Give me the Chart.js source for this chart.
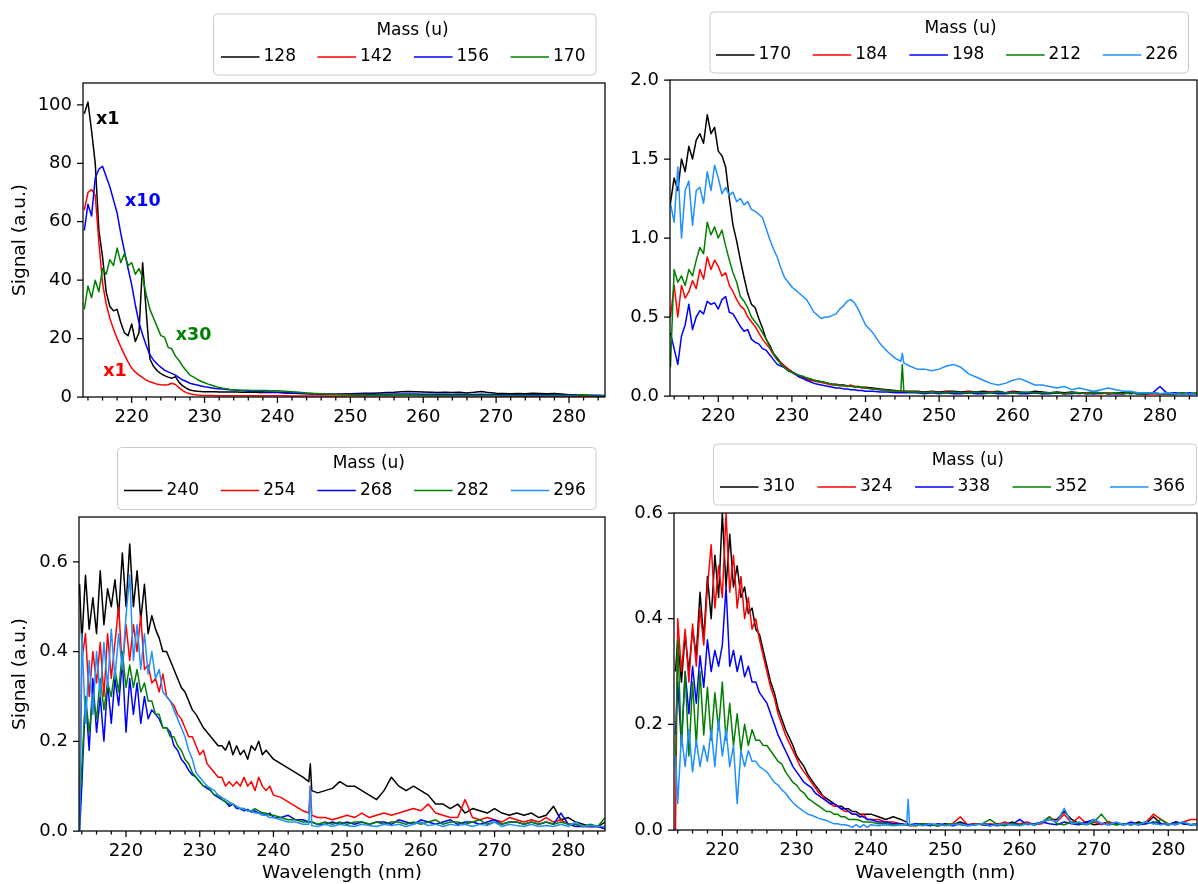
<!DOCTYPE html>
<html>
<head>
<meta charset="utf-8">
<title>Mass-resolved spectra</title>
<script src="https://cdn.jsdelivr.net/npm/chart.js@4.4.1/dist/chart.umd.min.js"></script>
<style>
  html, body { margin: 0; padding: 0; background: #fff; }
  #wrap { position: relative; width: 1198px; height: 884px; overflow: hidden; }
  #wrap canvas { position: absolute; left: 0; top: 0; }
</style>
</head>
<body>
<div id="wrap">
  <canvas id="tl" width="1198" height="884"></canvas>
  <canvas id="tr" width="1198" height="884"></canvas>
  <canvas id="bl" width="1198" height="884"></canvas>
  <canvas id="br" width="1198" height="884"></canvas>
</div>
<script>
// wavelength grids (nm)
const topWavelength = [
  213.5,214,214.5,215,215.5,216,216.5,217,217.5,218,
  218.5,219,219.5,220,220.5,221,221.5,222,222.5,223,
  223.5,224,224.5,225,225.5,226,226.5,227,227.5,228,
  228.5,229,229.5,230,230.5,231,231.5,232,232.5,233,
  233.5,234,234.5,235,235.5,236,236.5,237,237.5,238,
  238.5,239,239.5,240,241,242,243,244,244.8,245,
  245.2,246,247,248,249,250,251,252,253,254,
  255,256,257,258,259,260,261,262,263,264,
  265,266,267,268,269,270,271,272,273,274,
  275,276,277,278,279,280,281,282,283,284,285
];
const bottomWavelength = [
  213.7,214,214.5,215,215.5,216,216.5,217,217.5,218,
  218.5,219,219.5,220,220.5,221,221.5,222,222.5,223,
  223.5,224,224.5,225,225.5,226,226.5,227,227.5,228,
  228.5,229,229.5,230,230.5,231,231.5,232,232.5,233,
  233.5,234,234.5,235,235.5,236,236.5,237,237.5,238,
  238.5,239,239.5,240,241,242,243,244,244.8,245,
  245.2,246,247,248,249,250,251,252,253,254,
  255,256,257,258,259,260,261,262,263,264,
  265,266,267,268,269,270,271,272,273,274,
  275,276,277,278,279,280,281,282,283,284,285
];

const xTickLabels = [220, 230, 240, 250, 260, 270, 280];
const lineColors = ['#000000', '#ff0000', '#0000ff', '#008000', '#1e90ff'];

// top left: masses 128-170
const tlLabels = ['128', '142', '156', '170'];
const tlMass128 = [
  97,101,91,80,57,48,36,31,29.5,30,
  25.5,22,21,25,19,22,46,29,13,10.5,
  9,8,7.3,6.8,6.4,7,5,3.8,3.0,2.4,
  2.1,1.95,1.85,1.8,1.8,1.8,1.8,1.75,1.75,1.75,
  1.7,1.7,1.7,1.65,1.65,1.6,1.6,1.6,1.55,1.55,
  1.5,1.5,1.5,1.5,1.4,1.3,1.2,1.1,1.0,1.0,
  1.0,0.9,0.9,0.9,1.0,1.1,1.2,1.3,1.3,1.4,
  1.5,1.6,1.8,1.9,1.8,1.7,1.6,1.5,1.6,1.5,
  1.6,1.4,1.6,1.9,1.5,1.3,1.2,1.1,1.2,1.1,
  1.3,1.2,1.1,1.2,1.0,0.8,0.7,0.6,0.5,0.4,0.4
];
const tlMass142 = [
  64,70,71,69,53,39,31.8,27,23.3,20,
  17.2,14.5,12,9.9,8.5,7.5,6.6,5.8,5.2,4.8,
  4.4,4.2,4.1,4.2,4.7,4.3,3.2,2.2,1.5,1.1,
  0.85,0.7,0.6,0.55,0.5,0.5,0.45,0.45,0.45,0.45,
  0.4,0.4,0.4,0.4,0.4,0.4,0.4,0.4,0.4,0.4,
  0.4,0.4,0.4,0.4,0.4,0.35,0.35,0.35,0.35,0.35,
  0.35,0.35,0.35,0.35,0.35,0.4,0.4,0.4,0.4,0.45,
  0.45,0.45,0.5,0.5,0.5,0.5,0.45,0.45,0.45,0.4,
  0.4,0.4,0.4,0.45,0.4,0.4,0.35,0.35,0.35,0.35,
  0.3,0.3,0.3,0.3,0.3,0.3,0.25,0.25,0.25,0.2,0.2
];
const tlMass156 = [
  57,66,62,75,78,79,75.5,72,67.5,63,
  56,50,44,38.5,31.5,25.5,21.3,17.6,14.4,12.6,
  11.3,10.2,9.2,8.6,8.1,7.5,6.6,5.8,5.3,4.7,
  4.4,4.1,3.8,3.5,3.3,3.1,2.9,2.8,2.7,2.6,
  2.5,2.4,2.3,2.2,2.1,2.0,1.95,1.9,1.85,1.8,
  1.75,1.7,1.65,1.6,1.5,1.4,1.3,1.2,1.1,1.1,
  1.1,1.0,0.9,0.9,0.9,0.9,0.9,0.9,0.95,0.9,
  0.95,1.0,1.0,1.0,1.0,0.95,0.9,0.9,0.9,0.85,
  0.9,0.85,0.85,0.9,0.85,0.8,0.8,0.8,0.8,0.75,
  0.8,0.75,0.75,0.7,0.7,0.7,0.65,0.6,0.6,0.6,0.55
];
const tlMass170 = [
  30,38,34,40,36,44,42,47,45,51,
  46,49,45,46,42,44,41,35,30,27,
  24,21,20.5,17,16.5,14,12.5,10.5,9,7.5,
  6.8,6.0,5.4,4.9,4.4,4.0,3.6,3.3,3.0,2.8,
  2.6,2.5,2.4,2.35,2.3,2.3,2.25,2.25,2.2,2.2,
  2.2,2.15,2.1,2.1,2.0,1.8,1.6,1.4,1.25,1.2,
  1.2,1.1,1.0,0.9,0.8,0.8,0.7,0.7,0.6,0.7,
  0.6,0.6,0.7,0.6,0.6,0.5,0.6,0.5,0.6,0.5,
  0.5,0.6,0.5,0.5,0.6,0.5,0.4,0.5,0.4,0.5,
  0.4,0.4,0.5,0.4,0.4,0.4,0.5,0.8,0.4,0.3,0.4
];
const tlYTicks = [0, 20, 40, 60, 80, 100];
const tlNoteText = ['x1', 'x10', 'x30', 'x1'];
const tlNoteX = [215.1, 219.08, 226.04, 216.11];
const tlNoteY = [94.9, 67.1, 20.9, 8.9];
const tlNoteColor = ['#000000', '#0000ff', '#008000', '#ff0000'];

// top right: masses 170-226
const trLabels = ['170', '184', '198', '212', '226'];
const trMass170 = [
  1.22,1.38,1.30,1.50,1.42,1.58,1.50,1.62,1.66,1.60,
  1.78,1.66,1.70,1.55,1.52,1.45,1.25,1.08,0.98,0.86,
  0.75,0.65,0.58,0.56,0.49,0.43,0.36,0.32,0.27,0.24,
  0.21,0.19,0.17,0.155,0.14,0.13,0.12,0.11,0.105,0.10,
  0.095,0.09,0.085,0.08,0.075,0.075,0.07,0.07,0.065,0.065,
  0.06,0.06,0.055,0.055,0.05,0.045,0.04,0.035,0.03,0.03,
  0.03,0.03,0.03,0.025,0.03,0.025,0.03,0.03,0.025,0.03,
  0.025,0.03,0.025,0.03,0.02,0.03,0.025,0.02,0.03,0.025,
  0.02,0.025,0.02,0.025,0.02,0.02,0.025,0.02,0.015,0.02,
  0.02,0.015,0.02,0.015,0.02,0.015,0.015,0.01,0.02,0.01,0.015
];
const trMass184 = [
  0.50,0.70,0.50,0.70,0.62,0.66,0.73,0.68,0.80,0.74,
  0.88,0.80,0.86,0.82,0.76,0.78,0.70,0.66,0.61,0.57,
  0.55,0.50,0.47,0.44,0.40,0.36,0.33,0.30,0.26,0.23,
  0.21,0.19,0.17,0.155,0.14,0.125,0.115,0.105,0.10,0.095,
  0.09,0.085,0.08,0.075,0.07,0.07,0.065,0.065,0.06,0.07,
  0.055,0.06,0.05,0.05,0.045,0.04,0.035,0.03,0.03,0.03,
  0.03,0.025,0.025,0.02,0.025,0.02,0.025,0.02,0.02,0.025,
  0.02,0.02,0.025,0.02,0.02,0.025,0.02,0.02,0.02,0.015,
  0.02,0.02,0.015,0.02,0.015,0.02,0.015,0.015,0.02,0.015,
  0.015,0.02,0.015,0.01,0.015,0.01,0.015,0.02,0.01,0.015,0.01
];
const trMass198 = [
  0.40,0.30,0.20,0.38,0.45,0.58,0.42,0.50,0.54,0.52,
  0.60,0.58,0.59,0.55,0.61,0.63,0.53,0.52,0.48,0.44,
  0.41,0.42,0.36,0.34,0.33,0.30,0.29,0.26,0.23,0.20,
  0.19,0.18,0.16,0.15,0.135,0.12,0.11,0.10,0.09,0.08,
  0.075,0.07,0.065,0.06,0.055,0.05,0.05,0.045,0.045,0.04,
  0.04,0.035,0.035,0.03,0.03,0.025,0.025,0.02,0.02,0.02,
  0.02,0.02,0.02,0.015,0.02,0.015,0.02,0.015,0.015,0.02,
  0.015,0.015,0.02,0.015,0.015,0.02,0.015,0.015,0.02,0.015,
  0.015,0.02,0.015,0.015,0.02,0.015,0.015,0.02,0.015,0.015,
  0.015,0.02,0.015,0.015,0.02,0.06,0.015,0.02,0.015,0.02,0.015
];
const trMass212 = [
  0.18,0.80,0.72,0.76,0.70,0.80,0.76,0.86,0.94,0.90,
  1.10,1.02,1.07,1.00,1.05,0.95,0.86,0.78,0.72,0.63,
  0.60,0.56,0.50,0.47,0.44,0.40,0.36,0.31,0.27,0.23,
  0.20,0.18,0.16,0.15,0.14,0.13,0.125,0.115,0.11,0.10,
  0.095,0.09,0.085,0.08,0.075,0.07,0.07,0.065,0.065,0.06,
  0.06,0.055,0.055,0.05,0.045,0.04,0.035,0.03,0.03,0.20,
  0.03,0.025,0.025,0.02,0.025,0.02,0.02,0.025,0.02,0.02,
  0.025,0.02,0.02,0.025,0.02,0.02,0.02,0.025,0.02,0.02,
  0.02,0.02,0.015,0.02,0.02,0.015,0.02,0.02,0.015,0.02,
  0.015,0.02,0.015,0.015,0.02,0.015,0.015,0.01,0.02,0.015,0.02
];
const trMass226 = [
  1.22,1.10,1.45,1.00,1.30,1.36,1.08,1.30,1.32,1.22,
  1.42,1.30,1.46,1.38,1.28,1.32,1.27,1.29,1.23,1.25,
  1.21,1.23,1.18,1.17,1.15,1.13,1.06,0.99,0.93,0.88,
  0.81,0.75,0.72,0.69,0.67,0.65,0.63,0.61,0.57,0.53,
  0.51,0.49,0.50,0.50,0.51,0.52,0.55,0.57,0.60,0.61,
  0.59,0.55,0.50,0.45,0.40,0.33,0.28,0.24,0.22,0.27,
  0.21,0.19,0.17,0.17,0.16,0.17,0.19,0.20,0.18,0.14,
  0.12,0.10,0.08,0.07,0.08,0.10,0.11,0.09,0.07,0.07,
  0.06,0.05,0.06,0.04,0.05,0.04,0.03,0.04,0.05,0.04,
  0.03,0.03,0.02,0.02,0.02,0.015,0.02,0.015,0.01,0.015,0.01
];
const trYTicks = [0, 0.5, 1.0, 1.5, 2.0];

// bottom left: masses 240-296
const blLabels = ['240', '254', '268', '282', '296'];
const blMass240 = [
  0.55,0.42,0.57,0.45,0.52,0.44,0.58,0.46,0.54,0.50,
  0.56,0.48,0.62,0.50,0.64,0.50,0.58,0.47,0.55,0.44,
  0.48,0.45,0.43,0.40,0.40,0.38,0.36,0.34,0.32,0.31,
  0.29,0.27,0.26,0.245,0.23,0.22,0.21,0.20,0.19,0.19,
  0.18,0.20,0.17,0.19,0.17,0.18,0.16,0.19,0.18,0.20,
  0.17,0.18,0.17,0.16,0.15,0.14,0.13,0.12,0.11,0.15,
  0.09,0.085,0.09,0.095,0.11,0.10,0.10,0.09,0.08,0.07,
  0.09,0.12,0.10,0.09,0.10,0.09,0.08,0.06,0.06,0.05,
  0.06,0.04,0.05,0.045,0.04,0.05,0.04,0.035,0.04,0.035,
  0.04,0.03,0.035,0.055,0.025,0.03,0.02,0.015,0.01,0.01,0.02
];
const blMass254 = [
  0.02,0.38,0.44,0.30,0.40,0.33,0.42,0.30,0.44,0.34,
  0.42,0.50,0.36,0.46,0.38,0.46,0.40,0.48,0.36,0.37,
  0.33,0.34,0.31,0.35,0.30,0.29,0.28,0.26,0.25,0.23,
  0.21,0.21,0.19,0.17,0.18,0.15,0.14,0.13,0.12,0.12,
  0.10,0.11,0.10,0.11,0.10,0.12,0.10,0.11,0.09,0.12,
  0.10,0.09,0.10,0.08,0.075,0.065,0.055,0.045,0.04,0.10,
  0.035,0.03,0.03,0.025,0.03,0.035,0.03,0.04,0.03,0.035,
  0.04,0.035,0.04,0.045,0.05,0.045,0.06,0.04,0.035,0.03,
  0.03,0.07,0.03,0.025,0.03,0.025,0.02,0.03,0.025,0.02,
  0.025,0.02,0.03,0.02,0.025,0.015,0.015,0.01,0.01,0.01,0.005
];
const blMass268 = [
  0.0,0.10,0.30,0.18,0.34,0.22,0.30,0.20,0.33,0.24,
  0.34,0.28,0.38,0.22,0.34,0.26,0.33,0.24,0.30,0.25,
  0.27,0.26,0.25,0.23,0.23,0.22,0.19,0.18,0.16,0.15,
  0.135,0.125,0.12,0.11,0.10,0.095,0.09,0.08,0.075,0.07,
  0.065,0.055,0.06,0.05,0.05,0.045,0.048,0.042,0.045,0.04,
  0.04,0.035,0.04,0.03,0.03,0.035,0.025,0.025,0.02,0.02,
  0.02,0.015,0.015,0.02,0.015,0.02,0.015,0.02,0.015,0.02,
  0.02,0.015,0.025,0.02,0.015,0.025,0.02,0.015,0.02,0.025,
  0.015,0.02,0.02,0.015,0.02,0.025,0.015,0.02,0.02,0.015,
  0.02,0.015,0.02,0.015,0.04,0.015,0.01,0.01,0.01,0.01,0.005
];
const blMass282 = [
  0.05,0.14,0.30,0.22,0.30,0.25,0.34,0.27,0.33,0.30,
  0.36,0.31,0.40,0.32,0.37,0.32,0.36,0.31,0.33,0.29,
  0.29,0.26,0.26,0.23,0.23,0.21,0.21,0.19,0.18,0.16,
  0.15,0.13,0.12,0.11,0.10,0.10,0.09,0.08,0.08,0.07,
  0.065,0.06,0.06,0.055,0.05,0.05,0.045,0.045,0.05,0.045,
  0.04,0.04,0.035,0.035,0.03,0.025,0.025,0.02,0.02,0.02,
  0.02,0.015,0.02,0.015,0.02,0.015,0.02,0.02,0.015,0.02,
  0.015,0.02,0.02,0.015,0.02,0.015,0.02,0.025,0.015,0.02,
  0.02,0.015,0.02,0.025,0.015,0.02,0.015,0.02,0.02,0.015,
  0.02,0.015,0.02,0.015,0.02,0.015,0.015,0.01,0.015,0.01,0.03
];
const blMass296 = [
  0.0,0.44,0.24,0.38,0.26,0.40,0.30,0.42,0.32,0.45,
  0.34,0.44,0.36,0.48,0.57,0.38,0.46,0.36,0.44,0.35,
  0.40,0.34,0.36,0.31,0.30,0.29,0.27,0.25,0.23,0.21,
  0.18,0.16,0.13,0.12,0.11,0.10,0.095,0.09,0.08,0.075,
  0.07,0.065,0.06,0.055,0.05,0.05,0.045,0.045,0.04,0.04,
  0.035,0.035,0.03,0.03,0.025,0.02,0.02,0.015,0.015,0.10,
  0.012,0.01,0.015,0.01,0.015,0.012,0.01,0.015,0.012,0.01,
  0.015,0.012,0.015,0.01,0.015,0.02,0.012,0.015,0.01,0.015,
  0.012,0.015,0.01,0.015,0.012,0.02,0.01,0.015,0.012,0.01,
  0.015,0.01,0.012,0.01,0.015,0.01,0.02,0.01,0.012,0.01,0.01
];
const blYTicks = [0, 0.2, 0.4, 0.6];

// bottom right: masses 310-366
const brLabels = ['310', '324', '338', '352', '366'];
const brMass310 = [
  0.30,0.36,0.28,0.37,0.30,0.38,0.33,0.45,0.36,0.48,
  0.40,0.52,0.44,0.60,0.46,0.56,0.46,0.50,0.44,0.46,
  0.41,0.42,0.38,0.37,0.34,0.31,0.28,0.26,0.23,0.21,
  0.19,0.175,0.16,0.14,0.13,0.12,0.105,0.095,0.085,0.076,
  0.065,0.06,0.055,0.05,0.045,0.045,0.04,0.04,0.035,0.035,
  0.03,0.03,0.03,0.03,0.025,0.02,0.025,0.02,0.015,0.01,
  0.01,0.01,0.012,0.01,0.008,0.012,0.01,0.015,0.01,0.012,
  0.01,0.008,0.012,0.01,0.015,0.01,0.012,0.01,0.015,0.02,
  0.02,0.035,0.02,0.012,0.015,0.01,0.012,0.015,0.01,0.012,
  0.01,0.015,0.012,0.025,0.012,0.01,0.015,0.012,0.01,0.012,0.01
];
const brMass324 = [
  0.0,0.40,0.30,0.38,0.28,0.39,0.31,0.42,0.35,0.46,
  0.54,0.42,0.50,0.44,0.60,0.45,0.52,0.42,0.48,0.40,
  0.44,0.38,0.40,0.36,0.33,0.30,0.27,0.25,0.22,0.20,
  0.18,0.165,0.15,0.135,0.12,0.11,0.10,0.09,0.08,0.07,
  0.065,0.055,0.05,0.045,0.045,0.04,0.035,0.035,0.03,0.03,
  0.025,0.03,0.02,0.02,0.02,0.015,0.015,0.012,0.01,0.01,
  0.008,0.008,0.01,0.012,0.008,0.01,0.012,0.025,0.01,0.012,
  0.01,0.012,0.01,0.015,0.01,0.012,0.015,0.01,0.012,0.025,
  0.015,0.03,0.012,0.025,0.012,0.015,0.01,0.015,0.012,0.01,
  0.012,0.01,0.015,0.03,0.02,0.012,0.01,0.015,0.02,0.02,0.01
];
const brMass338 = [
  0.18,0.28,0.16,0.30,0.22,0.31,0.24,0.33,0.27,0.36,
  0.30,0.34,0.31,0.35,0.46,0.31,0.34,0.30,0.33,0.29,
  0.31,0.28,0.28,0.26,0.25,0.24,0.22,0.20,0.18,0.165,
  0.15,0.135,0.12,0.11,0.10,0.09,0.085,0.08,0.07,0.065,
  0.06,0.055,0.05,0.05,0.045,0.04,0.04,0.035,0.03,0.03,
  0.025,0.025,0.02,0.02,0.015,0.015,0.012,0.012,0.01,0.01,
  0.01,0.012,0.01,0.008,0.012,0.01,0.008,0.012,0.01,0.01,
  0.012,0.01,0.008,0.012,0.01,0.02,0.01,0.012,0.015,0.012,
  0.01,0.015,0.012,0.01,0.015,0.02,0.012,0.01,0.012,0.01,
  0.015,0.01,0.012,0.015,0.012,0.01,0.015,0.012,0.01,0.01,0.012
];
const brMass352 = [
  0.12,0.36,0.16,0.30,0.14,0.28,0.16,0.30,0.18,0.27,
  0.17,0.26,0.19,0.28,0.17,0.24,0.16,0.22,0.15,0.20,
  0.16,0.19,0.17,0.17,0.16,0.16,0.15,0.14,0.13,0.125,
  0.11,0.10,0.09,0.085,0.075,0.07,0.06,0.055,0.05,0.045,
  0.04,0.035,0.035,0.03,0.03,0.025,0.025,0.02,0.02,0.02,
  0.018,0.015,0.015,0.015,0.012,0.012,0.01,0.01,0.01,0.01,
  0.01,0.008,0.012,0.01,0.008,0.01,0.012,0.01,0.008,0.01,
  0.012,0.02,0.01,0.008,0.012,0.01,0.012,0.01,0.015,0.025,
  0.012,0.01,0.015,0.012,0.01,0.015,0.03,0.012,0.01,0.012,
  0.01,0.012,0.015,0.012,0.02,0.01,0.012,0.015,0.01,0.012,0.01
];
const brMass366 = [
  0.14,0.05,0.18,0.12,0.19,0.11,0.17,0.12,0.16,0.13,
  0.19,0.12,0.21,0.14,0.19,0.12,0.16,0.05,0.15,0.12,
  0.15,0.13,0.13,0.12,0.115,0.11,0.10,0.09,0.085,0.076,
  0.07,0.06,0.052,0.045,0.04,0.035,0.03,0.028,0.025,0.022,
  0.02,0.018,0.015,0.012,0.012,0.01,0.01,0.008,0.005,0.01,
  0.005,0.01,0.005,0.01,0.008,0.01,0.008,0.01,0.01,0.058,
  0.008,0.01,0.008,0.012,0.01,0.008,0.01,0.012,0.008,0.01,
  0.012,0.008,0.01,0.012,0.01,0.008,0.012,0.01,0.015,0.02,
  0.015,0.041,0.012,0.015,0.01,0.02,0.012,0.01,0.015,0.01,
  0.012,0.01,0.015,0.012,0.01,0.012,0.01,0.015,0.01,0.012,0.01
];
const brYTicks = [0, 0.2, 0.4, 0.6];

Chart.defaults.font.family = "'DejaVu Sans', sans-serif";
Chart.defaults.color = '#000';

// spines, tick marks, boxed legend and scale notes
const panelDecor = {
  id: 'panelDecor',
  afterDraw(chart, args, opts) {
    const ctx = chart.ctx;
    const a = chart.chartArea;
    const xs = chart.scales.x, ys = chart.scales.y;
    ctx.save();
    ctx.strokeStyle = '#000';
    ctx.lineWidth = 1.25;
    ctx.beginPath();
    for (let v = 214; v <= 284; v += 2) {
      if (v < xs.min || v > xs.max) continue;
      const px = xs.getPixelForValue(v);
      const len = v % 10 === 0 ? 6 : 3.5;
      ctx.moveTo(px, a.bottom);
      ctx.lineTo(px, a.bottom + len);
    }
    opts.yTicks.forEach(v => {
      const py = ys.getPixelForValue(v);
      ctx.moveTo(a.left, py);
      ctx.lineTo(a.left - 6, py);
    });
    ctx.stroke();
    ctx.strokeRect(a.left, a.top, a.right - a.left, a.bottom - a.top);

    if (opts.notes) {
      ctx.font = "bold 17.5px 'DejaVu Sans'";
      ctx.textAlign = 'left';
      ctx.textBaseline = 'middle';
      opts.notes.text.forEach((t, i) => {
        ctx.fillStyle = opts.notes.color[i];
        ctx.fillText(t, xs.getPixelForValue(opts.notes.x[i]), ys.getPixelForValue(opts.notes.y[i]));
      });
    }

    const lg = opts.legend;
    ctx.beginPath();
    ctx.roundRect(lg.x, lg.y, lg.w, lg.h, 4);
    ctx.fillStyle = 'rgba(255,255,255,0.8)';
    ctx.fill();
    ctx.strokeStyle = '#cccccc';
    ctx.lineWidth = 1;
    ctx.stroke();
    ctx.fillStyle = '#000';
    ctx.font = "17px 'DejaVu Sans'";
    ctx.textAlign = 'center';
    ctx.textBaseline = 'middle';
    ctx.fillText('Mass (u)', lg.titleX, lg.y + 16.5);
    ctx.textAlign = 'left';
    const rowY = lg.y + 43;
    chart.data.datasets.forEach((ds, i) => {
      const hx = lg.handleX + i * lg.stride;
      ctx.strokeStyle = ds.borderColor;
      ctx.lineWidth = 1.5;
      ctx.beginPath();
      ctx.moveTo(hx, rowY);
      ctx.lineTo(hx + 38.5, rowY);
      ctx.stroke();
      ctx.fillStyle = '#000';
      ctx.fillText(ds.label, hx + 42.5, rowY);
    });
    ctx.restore();
  }
};

function drawPanel(canvasId, p) {
  const datasets = p.series.map((values, i) => ({
    label: p.labels[i],
    data: p.wavelength.map((w, k) => ({ x: w, y: values[k] })),
    borderColor: lineColors[i],
    borderWidth: 1.5,
    borderJoinStyle: 'round',
    pointRadius: 0,
    tension: 0,
    fill: false,
    order: p.series.length - i
  }));

  new Chart(document.getElementById(canvasId), {
    type: 'line',
    data: { datasets },
    plugins: [panelDecor],
    options: {
      responsive: false,
      animation: false,
      events: [],
      layout: { padding: { left: p.padLeft, top: p.area.top, right: 1198 - p.area.right, bottom: 0 } },
      plugins: {
        legend: { display: false },
        tooltip: { enabled: false },
        panelDecor: { legend: p.legend, yTicks: p.yTicks, notes: p.notes }
      },
      scales: {
        x: {
          type: 'linear',
          min: p.xMin,
          max: p.xMax,
          afterFit: s => { s.height = 884 - p.area.bottom; },
          afterBuildTicks: s => { s.ticks = xTickLabels.map(v => ({ value: v })); },
          grid: { display: false, drawTicks: true, tickLength: 6 },
          border: { display: false },
          ticks: { autoSkip: false, maxRotation: 0, padding: 4, font: { size: 18 }, color: '#000' },
          title: { display: p.xTitle, text: 'Wavelength (nm)', font: { size: 18.5 }, color: '#000', padding: 0 }
        },
        y: {
          type: 'linear',
          min: 0,
          max: p.yMax,
          afterFit: s => { s.width = p.area.left - p.padLeft; },
          afterBuildTicks: s => { s.ticks = p.yTicks.map(v => ({ value: v })); },
          grid: { display: false, drawTicks: true, tickLength: 6 },
          border: { display: false },
          ticks: { padding: 5, font: { size: 18 }, color: '#000', callback: v => p.yFormat(v) },
          title: { display: p.yTitle, text: 'Signal (a.u.)', font: { size: 18.5 }, color: '#000', padding: { top: 9, bottom: 0 } }
        }
      }
    }
  });
}

drawPanel('tl', {
  wavelength: topWavelength,
  series: [tlMass128, tlMass142, tlMass156, tlMass170],
  labels: tlLabels,
  area: { left: 83, top: 83, right: 605, bottom: 397 },
  padLeft: 0,
  xMin: 213.32, xMax: 284.94,
  yMax: 107.5, yTicks: tlYTicks, yFormat: v => String(v),
  xTitle: false, yTitle: true,
  notes: { text: tlNoteText, x: tlNoteX, y: tlNoteY, color: tlNoteColor },
  legend: { x: 213.5, y: 14, w: 382.5, h: 61, titleX: 412.5, handleX: 221, stride: 96.5 }
});

drawPanel('tr', {
  wavelength: topWavelength,
  series: [trMass170, trMass184, trMass198, trMass212, trMass226],
  labels: trLabels,
  area: { left: 670, top: 80, right: 1197, bottom: 396 },
  padLeft: 610,
  xMin: 213.44, xMax: 285.03,
  yMax: 2.0, yTicks: trYTicks, yFormat: v => v.toFixed(1),
  xTitle: false, yTitle: false,
  legend: { x: 710, y: 12, w: 478.5, h: 61, titleX: 960.5, handleX: 716, stride: 96.7 }
});

drawPanel('bl', {
  wavelength: bottomWavelength,
  series: [blMass240, blMass254, blMass268, blMass282, blMass296],
  labels: blLabels,
  area: { left: 79, top: 517, right: 605, bottom: 831 },
  padLeft: 0,
  xMin: 213.62, xMax: 284.98,
  yMax: 0.7, yTicks: blYTicks, yFormat: v => v.toFixed(1),
  xTitle: true, yTitle: true,
  legend: { x: 117.5, y: 447.5, w: 478.5, h: 62, titleX: 368.8, handleX: 124, stride: 96.7 }
});

drawPanel('br', {
  wavelength: bottomWavelength,
  series: [brMass310, brMass324, brMass338, brMass352, brMass366],
  labels: brLabels,
  area: { left: 674, top: 513, right: 1197, bottom: 830 },
  padLeft: 614,
  xMin: 213.5, xMax: 283.86,
  yMax: 0.6, yTicks: brYTicks, yFormat: v => v.toFixed(1),
  xTitle: true, yTitle: false,
  legend: { x: 713.5, y: 444, w: 483, h: 61, titleX: 967.8, handleX: 720, stride: 97.5 }
});
</script>
</body>
</html>
